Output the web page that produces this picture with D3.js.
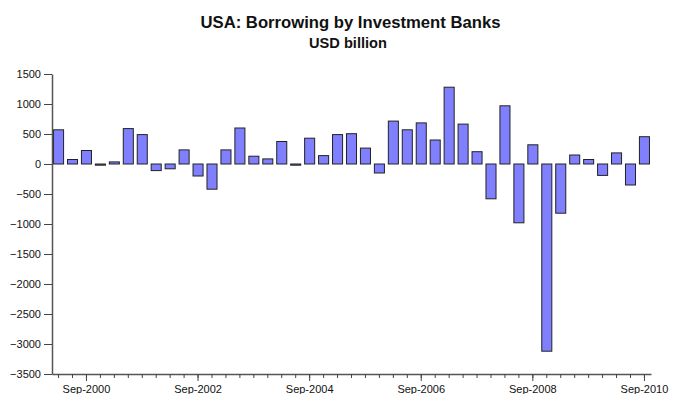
<!DOCTYPE html>
<html>
<head>
<meta charset="utf-8">
<script src="https://cdn.jsdelivr.net/npm/d3@7"></script>
<style>
  body { margin: 0; background: #fff; }
  svg text { font-family: "Liberation Sans", Arial, sans-serif; }
</style>
</head>
<body>
<svg id="chart" width="680" height="394"></svg>
<script>
// quarterly categories, Mar-2000 .. Sep-2010
const quarters = [
  "Mar-2000","Jun-2000","Sep-2000","Dec-2000",
  "Mar-2001","Jun-2001","Sep-2001","Dec-2001",
  "Mar-2002","Jun-2002","Sep-2002","Dec-2002",
  "Mar-2003","Jun-2003","Sep-2003","Dec-2003",
  "Mar-2004","Jun-2004","Sep-2004","Dec-2004",
  "Mar-2005","Jun-2005","Sep-2005","Dec-2005",
  "Mar-2006","Jun-2006","Sep-2006","Dec-2006",
  "Mar-2007","Jun-2007","Sep-2007","Dec-2007",
  "Mar-2008","Jun-2008","Sep-2008","Dec-2008",
  "Mar-2009","Jun-2009","Sep-2009","Dec-2009",
  "Mar-2010","Jun-2010","Sep-2010"
];

const borrowing = [
  570, 75, 225, -20,
  35, 590, 490, -110,
  -80, 235, -200, -420,
  235, 600, 130, 85,
  375, -20, 430, 140,
  490, 505, 265, -150,
  715, 570, 685, 400,
  1280, 665, 205, -580,
  970, -980, 320, -3120,
  -820, 150, 75, -190,
  185, -350, 455
];

const xTickLabels = ["Sep-2000", "Sep-2002", "Sep-2004", "Sep-2006", "Sep-2008", "Sep-2010"];
const yTicks = [1500, 1000, 500, 0, -500, -1000, -1500, -2000, -2500, -3000, -3500];

const svg = d3.select("#chart");
const margin = { left: 52, right: 651, top: 74, bottom: 374 };

const x = d3.scaleBand()
    .domain(quarters)
    .range([margin.left, margin.right])
    .paddingInner(0.28)
    .paddingOuter(0.11);

const y = d3.scaleLinear()
    .domain([-3500, 1500])
    .range([margin.bottom, margin.top]);

// titles (narrow face in the original, so squeeze to its measured width)
svg.append("text")
    .attr("x", 200.5)
    .attr("y", 28)
    .attr("textLength", 300)
    .attr("lengthAdjust", "spacingAndGlyphs")
    .style("font-size", "17px")
    .style("font-weight", "bold")
    .style("fill", "#111")
    .text("USA: Borrowing by Investment Banks");

svg.append("text")
    .attr("x", 309)
    .attr("y", 48)
    .attr("textLength", 78)
    .attr("lengthAdjust", "spacingAndGlyphs")
    .style("font-size", "15.5px")
    .style("font-weight", "bold")
    .style("fill", "#111")
    .text("USD billion");

// bars
svg.selectAll(".bar")
    .data(borrowing)
    .enter()
    .append("rect")
    .attr("class", "bar")
    .attr("x", (d, i) => x(quarters[i]))
    .attr("y", d => y(Math.max(0, d)))
    .attr("width", x.bandwidth())
    .attr("height", d => Math.abs(y(d) - y(0)))
    .attr("fill", "#8080ff")
    .attr("stroke", "#222")
    .attr("stroke-width", 1);

// y axis
const yAxis = svg.append("g")
    .attr("transform", `translate(${margin.left},0)`)
    .call(d3.axisLeft(y).tickValues(yTicks).tickFormat(d3.format("d"))
        .tickSize(8).tickPadding(3).tickSizeOuter(0));
yAxis.select(".domain").attr("stroke", "#555").attr("stroke-width", 1.5);
yAxis.selectAll(".tick line").attr("stroke", "#444");
yAxis.selectAll("text").style("font-size", "11px").style("fill", "#111");

// x axis: minor tick at every quarter, longer tick + label every other September
const xAxis = svg.append("g")
    .attr("transform", `translate(0,${margin.bottom})`)
    .call(d3.axisBottom(x).tickSize(4).tickFormat("").tickSizeOuter(0));
xAxis.select(".domain").attr("stroke", "#555").attr("stroke-width", 1.5);
xAxis.selectAll(".tick line").attr("stroke", "#444");

const major = svg.append("g")
    .attr("transform", `translate(0,${margin.bottom})`)
    .call(d3.axisBottom(x).tickValues(xTickLabels).tickSize(7).tickPadding(4));
major.select(".domain").remove();
major.selectAll(".tick line").attr("stroke", "#444");
major.selectAll("text").style("font-size", "11px").style("fill", "#111");
</script>
</body>
</html>
